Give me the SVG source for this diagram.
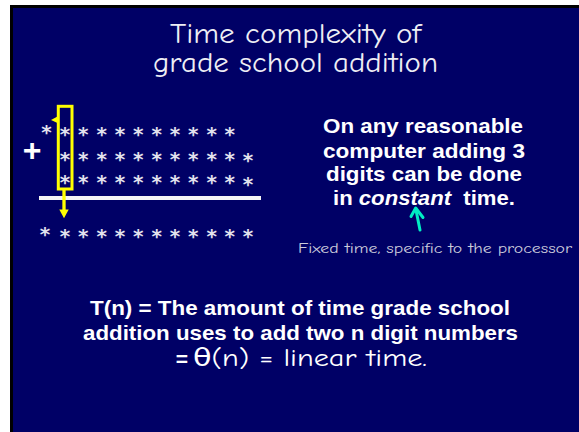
<svg xmlns="http://www.w3.org/2000/svg" width="579" height="432" viewBox="0 0 579 432">
  <defs>
    <style>
      .comic { font-family: 'Comic Sans MS', 'Comic Neue', 'DejaVu Sans', sans-serif; }
      .bold { font-family: 'Liberation Sans', Arial, sans-serif; font-weight: bold; fill: #FFFFFF; font-size: 21px; text-anchor: middle; }
      .title { font-size: 28px; fill: #EEEEF4; text-anchor: middle; }
      .star { font-family: 'DejaVu Sans', sans-serif; font-size: 20px; fill: #E2E2EE; font-weight: bold; }
      .yellow { fill: none; stroke: #FFFF00; stroke-width: 3; }
    </style>
  </defs>

  <rect x="0" y="0" width="579" height="432" fill="#FFFFFF"/>
  <rect x="10" y="5" width="569" height="427" fill="#000000"/>
  <rect x="13" y="8" width="566" height="424" fill="#000066"/>

  <g id="title" class="comic">
    <text class="title" x="295.5" y="42.5" textLength="251" lengthAdjust="spacingAndGlyphs">Time complexity of</text>
    <text class="title" x="295.5" y="72" textLength="285" lengthAdjust="spacingAndGlyphs">grade school addition</text>
  </g>

  <g id="addition">
    <text class="star" x="46.5" y="138.6" text-anchor="middle">*</text>
    <text class="star" text-anchor="middle" x="65 83.3 101.7 120 138.3 156.7 175 193.3 211.7 229.7" y="141.1">**********</text>
    <text class="star" text-anchor="middle" x="65 83.3 101.7 120 138.3 156.7 175 193.3 211.7 229.7" y="165.6">**********</text>
    <text class="star" x="248" y="167.1" text-anchor="middle">*</text>
    <text class="star" text-anchor="middle" x="65 83.3 101.7 120 138.3 156.7 175 193.3 211.7 229.7" y="189.1">**********</text>
    <text class="star" x="248" y="190.6" text-anchor="middle">*</text>
    <text x="32" y="160.5" font-family="'Liberation Sans', Arial, sans-serif" font-weight="bold" font-size="32" fill="#FFFFFF" text-anchor="middle">+</text>
    <rect x="39" y="196" width="222" height="4" fill="#F4F4F4"/>
    <text class="star" x="45" y="240.6" text-anchor="middle">*</text>
    <text class="star" text-anchor="middle" x="65 83.3 101.7 120 138.3 156.7 175 193.3 211.7 229.7 248" y="242.6">***********</text>
  </g>

  <g id="column-box">
    <rect class="yellow" x="58.3" y="106.3" width="13.7" height="82.7"/>
    <polygon points="51,120 57.5,116.5 57.5,123" fill="#FFFF00"/>
  </g>

  <g id="constant-note">
    <text class="bold" x="423" y="133" textLength="200" lengthAdjust="spacingAndGlyphs">On any reasonable</text>
    <text class="bold" x="424" y="157.5" textLength="202" lengthAdjust="spacingAndGlyphs">computer adding 3</text>
    <text class="bold" x="424" y="181" textLength="196" lengthAdjust="spacingAndGlyphs">digits can be done</text>
    <text class="bold" x="424" y="204.5" textLength="182" lengthAdjust="spacingAndGlyphs" xml:space="preserve">in <tspan font-style="italic">constant</tspan>  time.</text>
  </g>

  <g id="fixed-time-note" class="comic">
    <text x="298" y="253" font-size="14" fill="#CCCCDC" textLength="274" lengthAdjust="spacingAndGlyphs">Fixed time, specific to the processor</text>
  </g>

  <g id="connectors">
    <line x1="64" y1="190" x2="64" y2="211" stroke="#FFFF00" stroke-width="3.3"/>
    <polygon points="59.3,209.5 68.7,209.5 64,218.3" fill="#FFFF00"/>
    <line x1="420" y1="230" x2="415.8" y2="209" stroke="#00EEC4" stroke-width="3" stroke-linecap="round"/>
    <polyline points="411,216.5 415.7,208 423,217.5" fill="none" stroke="#00EEC4" stroke-width="3" stroke-linecap="round" stroke-linejoin="round"/>
  </g>

  <g id="conclusion">
    <text class="bold" x="300" y="315" textLength="420" lengthAdjust="spacingAndGlyphs">T(n) = The amount of time grade school</text>
    <text class="bold" x="300.5" y="340" textLength="435" lengthAdjust="spacingAndGlyphs">addition uses to add two n digit numbers</text>
    <text x="182" y="366" font-family="'Liberation Sans', Arial, sans-serif" font-weight="bold" font-size="21" fill="#FFFFFF" text-anchor="middle">=</text>
    <text class="comic" x="193" y="366" font-size="25" fill="#FFFFFF" textLength="234" lengthAdjust="spacingAndGlyphs">θ(n) = linear time.</text>
  </g>
</svg>
